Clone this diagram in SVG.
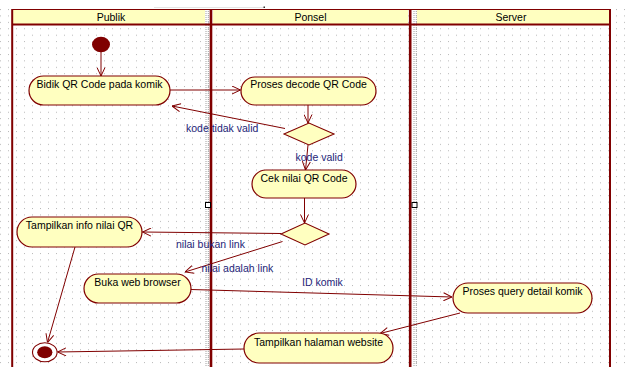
<svg xmlns="http://www.w3.org/2000/svg" width="627" height="367" viewBox="0 0 627 367">
  <defs>
    <pattern id="grid" x="0" y="2.6" width="8" height="6.42" patternUnits="userSpaceOnUse">
      <rect x="0" y="0" width="1" height="1" fill="#b8b8b8"/>
    </pattern>
    <marker id="arrow" viewBox="0 0 9 9" refX="9" refY="4.5" markerWidth="9" markerHeight="9" orient="auto" markerUnits="userSpaceOnUse">
      <path d="M0.5,0.5 L9,4.5 L0.5,8.5" fill="none" stroke="#800000" stroke-width="1"/>
    </marker>
  </defs>
  <style>
    text { font-family: "Liberation Sans", Arial, sans-serif; font-size: 10.5px; }
    .head { fill: #000; text-anchor: middle; }
    .act rect { fill: #ffffc0; stroke: #800000; stroke-width: 1.2; }
    .act text { fill: #000; text-anchor: middle; }
    .dec polygon { fill: #ffffc0; stroke: #800000; stroke-width: 1.1; }
    .lbl { fill: #1e1e78; }
    .edge { fill: none; stroke: #800000; stroke-width: 1; marker-end: url(#arrow); }
    .lane { stroke: #800000; fill: none; }
    .sep { stroke: #a0a0a0; stroke-width: 1; stroke-dasharray: 1 1; }
  </style>

  <!-- canvas and dotted grid -->
  <rect width="627" height="367" fill="#fff"/>
  <rect x="0" y="9" width="627" height="358" fill="url(#grid)"/>
  <line x1="154" y1="7.5" x2="264" y2="7.5" stroke="#e4e4e4" stroke-width="1"/>
  <rect x="263.5" y="6.5" width="1.5" height="1.5" fill="#333"/>

  <!-- swimlanes -->
  <g id="swimlanes">
    <rect x="13" y="10" width="192" height="14" fill="#ffffc0"/>
    <rect x="213" y="10" width="195" height="14" fill="#ffffc0"/>
    <rect x="417" y="10" width="192" height="14" fill="#ffffc0"/>
    <line class="sep" x1="206" y1="9" x2="206" y2="367"/>
    <line class="sep" x1="208.3" y1="9" x2="208.3" y2="367"/>
    <line class="sep" x1="414" y1="9" x2="414" y2="367"/>
    <line class="sep" x1="416.3" y1="9" x2="416.3" y2="367"/>
    <line class="lane" x1="12" y1="9.5" x2="611" y2="9.5" stroke-width="1"/>
    <line class="lane" x1="12" y1="24.5" x2="611" y2="24.5" stroke-width="2"/>
    <line class="lane" x1="12.2" y1="9" x2="12.2" y2="367" stroke-width="2"/>
    <line class="lane" x1="211" y1="9" x2="211" y2="367" stroke-width="2.6"/>
    <line class="lane" x1="410.2" y1="9" x2="410.2" y2="367" stroke-width="2.6"/>
    <line class="lane" x1="610" y1="9" x2="610" y2="367" stroke-width="2"/>
    <text class="head" x="111" y="21">Publik</text>
    <text class="head" x="310.5" y="21">Ponsel</text>
    <text class="head" x="511" y="21">Server</text>
    <rect x="205.5" y="202.5" width="5" height="5" fill="#fff" stroke="#000" stroke-width="1"/>
    <rect x="412" y="202.5" width="5" height="5" fill="#fff" stroke="#000" stroke-width="1"/>
  </g>

  <!-- connectors -->
  <g id="connectors">
    <line class="edge" x1="101" y1="52" x2="101" y2="76"/>
    <line class="edge" x1="170" y1="90" x2="240.5" y2="90"/>
    <line class="edge" x1="308" y1="105" x2="308" y2="123"/>
    <line class="edge" x1="285" y1="128.5" x2="172" y2="106"/>
    <line class="edge" x1="308" y1="145" x2="305.5" y2="170"/>
    <line class="edge" x1="304.5" y1="198" x2="304.5" y2="223"/>
    <line class="edge" x1="281" y1="233.5" x2="142.5" y2="232"/>
    <line class="edge" x1="282.5" y1="241.5" x2="185" y2="272"/>
    <line class="edge" x1="191" y1="289.5" x2="452" y2="297"/>
    <line class="edge" x1="460" y1="313" x2="380" y2="333.5"/>
    <line class="edge" x1="244" y1="349" x2="57.5" y2="352"/>
    <line class="edge" x1="75" y1="247" x2="47.5" y2="342.5"/>
    <text class="lbl" x="186" y="132">kode tidak valid</text>
    <text class="lbl" x="295.5" y="161">kode valid</text>
    <text class="lbl" x="176" y="248">nilai bukan link</text>
    <text class="lbl" x="201.5" y="272">nilai adalah link</text>
    <text class="lbl" x="302" y="285.5">ID komik</text>
  </g>

  <!-- nodes -->
  <g id="start">
    <ellipse cx="101" cy="44.5" rx="9" ry="7.8" fill="#800000"/>
  </g>
  <g id="bidik" class="act">
    <rect x="29" y="76" width="141" height="29" rx="14.5" ry="14.5"/>
    <text x="99.5" y="88">Bidik QR Code pada komik</text>
  </g>
  <g id="decode" class="act">
    <rect x="241" y="77" width="135" height="28" rx="14" ry="14"/>
    <text x="308.5" y="87.5">Proses decode QR Code</text>
  </g>
  <g id="valid-check" class="dec">
    <polygon points="284,134 309,123 334,134 309,145"/>
  </g>
  <g id="cek-nilai" class="act">
    <rect x="252" y="170" width="104" height="28" rx="14" ry="14"/>
    <text x="304" y="182">Cek nilai QR Code</text>
  </g>
  <g id="link-check" class="dec">
    <polygon points="281,234 305,223 329,234 305,245"/>
  </g>
  <g id="info-nilai" class="act">
    <rect x="17" y="217" width="125" height="30" rx="15" ry="15"/>
    <text x="79.5" y="229">Tampilkan info nilai QR</text>
  </g>
  <g id="browser" class="act">
    <rect x="84" y="274" width="107" height="29" rx="14.5" ry="14.5"/>
    <text x="137.5" y="285.5">Buka web browser</text>
  </g>
  <g id="query" class="act">
    <rect x="453" y="283" width="139" height="30" rx="15" ry="15"/>
    <text x="522.5" y="295">Proses query detail komik</text>
  </g>
  <g id="halaman" class="act">
    <rect x="244" y="333" width="149" height="30" rx="15" ry="15"/>
    <text x="318.5" y="345.5">Tampilkan halaman website</text>
  </g>
  <g id="end">
    <ellipse cx="44.8" cy="352.3" rx="12.3" ry="9.5" fill="#fff" stroke="#800000" stroke-width="1.1"/>
    <ellipse cx="44.8" cy="352.3" rx="7.6" ry="6" fill="#800000"/>
  </g>
</svg>
